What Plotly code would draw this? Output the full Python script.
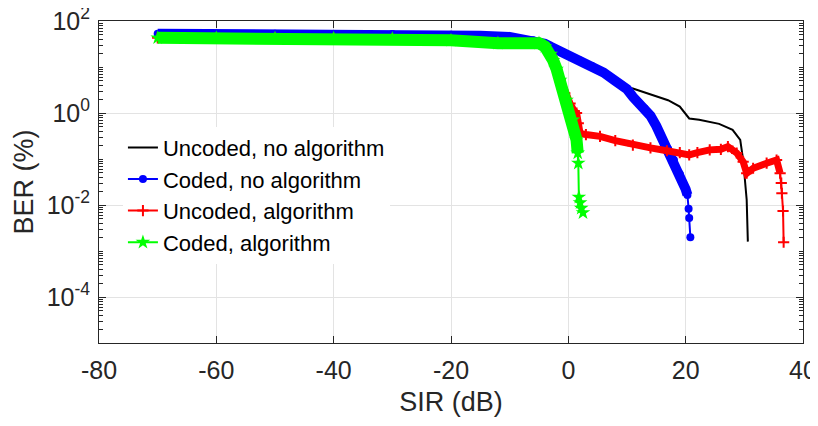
import plotly.graph_objects as go

# ---- data (SIR in dB, BER in %) ----
sir_unc_noalg = [-70, -60, -50, -40, -30, -20, -15, -10, -6, -4, -3, -2, 0, 2, 4, 6, 8, 8.5, 9, 10, 11, 13,
                 15.6, 17, 19, 19.8, 20.6, 22.3, 25.7, 28, 29.3, 29.8, 30.1, 30.4, 30.6]
ber_unc_noalg = [53, 53, 53, 52, 52, 50, 48, 45, 38, 32, 27.5, 24, 17.8, 13.8, 10.5, 7.6, 5.0, 4.6, 4.3, 3.6, 3.4, 2.8,
                 2.24, 1.9, 1.38, 1.0, 0.76, 0.71, 0.58, 0.43, 0.26, 0.095, 0.04, 0.013, 0.0016]

sir_cod_noalg = [-70, -60, -50, -40, -30, -20, -15, -10, -6, -4, -3, -2, 0, 2, 4, 6, 8, 9, 10, 11, 12, 13,
                 14, 15, 16, 17, 18, 19, 20, 20.3, 20.5, 20.6, 20.8]
ber_cod_noalg = [53, 53, 53, 52, 52, 50, 48, 45, 38, 32, 27.5, 24, 17.8, 13.8, 10.5, 7.6, 5.0, 4.1, 3.3, 2.24, 1.66, 1.26,
                 0.87, 0.52, 0.28, 0.166, 0.095, 0.047, 0.022, 0.0166, 0.0083, 0.0052, 0.002]
tail_cod_noalg = 4  # last points drawn as separate markers

sir_unc_alg = [-70, -60, -50, -40, -30, -20, -12, -5, -4, -3, -2, -1.4, -0.6, 0.3, 1.0, 1.4, 1.7, 2.0, 3, 5.4, 8,
               11, 14, 16.8, 19, 20.6, 22, 24.1, 26, 27.2, 28.7, 29.8, 30.4, 31.5, 33.8, 35.5, 36.1,
               36.3, 36.4, 36.6, 36.7]
ber_unc_alg = [43, 43, 42.5, 42, 41, 38, 33, 33, 28, 19, 9, 5.2, 2.7, 1.6, 1.1, 1.0, 0.6, 0.36, 0.34, 0.31, 0.25,
               0.2, 0.174, 0.151, 0.138, 0.123, 0.138, 0.158, 0.162, 0.186, 0.135, 0.087, 0.049, 0.063, 0.081, 0.095, 0.049,
               0.03, 0.018, 0.0074, 0.00155]
tail_unc_alg = 5

sir_cod_alg = [-70, -60, -50, -40, -30, -20, -12, -5, -4, -3, -2.6, -2, -1.4, -0.3, 0.8, 1.4,
               1.6, 1.7, 1.8, 2.0, 2.2, 2.5]
ber_cod_alg = [43, 43, 42.5, 42, 41, 38, 33, 33, 28, 19, 14, 9, 5.2, 1.9, 0.71, 0.26,
               0.135, 0.081, 0.0148, 0.0112, 0.0085, 0.0068]
tail_cod_alg = 6

names = ["Uncoded, no algorithm", "Coded, no algorithm", "Uncoded, algorithm", "Coded, algorithm"]
x_ticks = [-80, -60, -40, -20, 0, 20, 40]
x_ticktext = ["-80", "-60", "-40", "-20", "0", "20", "40"]
y_ticks = [1e2, 1e0, 1e-2, 1e-4]
y_ticktext = ["10<sup>2</sup>", "10<sup>0</sup>", "10<sup>-2</sup>", "10<sup>-4</sup>"]

fig = go.Figure()

# black: uncoded, no algorithm
fig.add_trace(go.Scatter(x=sir_unc_noalg, y=ber_unc_noalg, mode="lines", name=names[0],
                         line=dict(color="black", width=2), legendgroup="a"))

def add_series(sir, ber, ntail, color, band_w, symbol, msize, name, grp, mline=None):
    nb = len(sir) - ntail
    fig.add_trace(go.Scatter(x=sir[:nb + 1], y=ber[:nb + 1], mode="lines", showlegend=False,
                             line=dict(color=color, width=band_w), hoverinfo="skip"))
    marker = dict(symbol=symbol, size=msize, color=color)
    if mline:
        marker["line"] = dict(color=color, width=mline)
    fig.add_trace(go.Scatter(x=sir, y=ber, mode="lines+markers", name=name, legendgroup=grp,
                             line=dict(color=color, width=2), marker=marker))

add_series(sir_cod_noalg, ber_cod_noalg, tail_cod_noalg, "#0000ff", 10, "circle", 8, names[1], "b")
add_series(sir_unc_alg, ber_unc_alg, tail_unc_alg, "#ff0000", 7, "cross-thin", 8, names[2], "c", mline=2)
add_series(sir_cod_alg, ber_cod_alg, tail_cod_alg, "#00ff00", 12, "star", 11, names[3], "d")

axcol = "#262626"
font = "Liberation Sans, Arial, sans-serif"

minor_y = [k * 10.0 ** e for e in range(-5, 2) for k in range(1, 10) if not (k == 1 and e % 2 == 0)]

# the page body has an 8px margin, so the figure is 810x418 and shifted margins compensate
fig.update_layout(
    width=810, height=418,
    margin=dict(l=91, r=15, t=13, b=83, autoexpand=False),
    plot_bgcolor="white", paper_bgcolor="white",
    font=dict(family=font, color=axcol, size=25),
    showlegend=True,
    legend=dict(x=0.034, y=0.672, xanchor="left", yanchor="top", bgcolor="white",
                borderwidth=0, font=dict(size=22, color="black"),
                tracegroupgap=0, traceorder="grouped"),
    xaxis=dict(range=[-80, 40], tickmode="array", tickvals=x_ticks, ticktext=x_ticktext,
               ticks="inside", ticklen=7, tickcolor=axcol, automargin=False,
               ticklabeloverflow="allow", ticklabelstandoff=5,
               showline=True, linecolor=axcol, linewidth=1, mirror="ticks",
               showgrid=True, gridcolor="#e3e3e3", gridwidth=1, zeroline=False,
               minor=dict(showgrid=False, ticks=""),
               title=dict(text="SIR (dB)", font=dict(size=27), standoff=9),
               tickfont=dict(size=25)),
    yaxis=dict(type="log", range=[-5, 2], tickmode="array", tickvals=y_ticks, ticktext=y_ticktext,
               ticks="inside", ticklen=7, tickcolor=axcol, automargin=False,
               ticklabeloverflow="allow", ticklabelstandoff=3,
               showline=True, linecolor=axcol, linewidth=1, mirror="ticks",
               showgrid=True, gridcolor="#e3e3e3", gridwidth=1, zeroline=False,
               minor=dict(tickmode="array", tickvals=minor_y, ticks="inside", ticklen=4,
                          tickcolor=axcol, showgrid=False),
               title=dict(text="BER (%)", font=dict(size=27), standoff=5),
               tickfont=dict(size=25)),
)

fig.write_html("out.html")
